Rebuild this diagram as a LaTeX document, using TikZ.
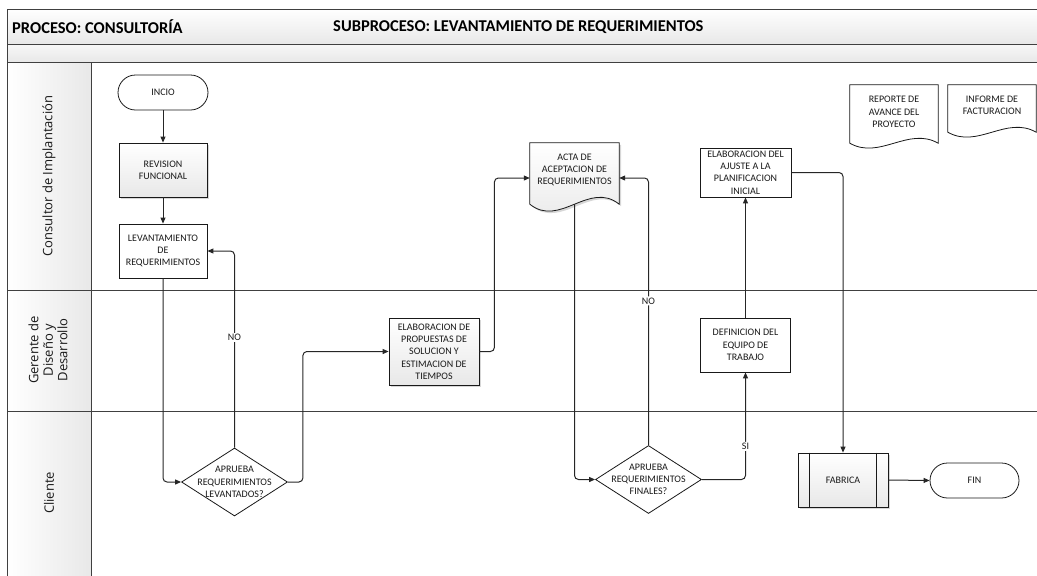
\documentclass[tikz,border=0pt]{standalone}
\usepackage{fontspec}
\setmainfont{Carlito}
\newfontfamily\lanefont{Open Sans}
\usetikzlibrary{shapes.geometric,shapes.misc,arrows.meta,shadows,calc}
\definecolor{linec}{HTML}{404040}
\definecolor{txtc}{HTML}{1A1A1A}
\tikzset{
  txt/.style={align=center, font=\fontsize{10}{12.3}\selectfont, text=txtc, inner sep=0pt},
  box/.style={draw=black!90, line width=0.8pt, minimum width=88pt, minimum height=54pt,
              align=center, font=\fontsize{10}{12.3}\selectfont, text=txtc, fill=white, inner sep=2pt},
  shad/.style={drop shadow={shadow xshift=2pt, shadow yshift=-2pt, fill=black!35, opacity=0.45}},
  gbox/.style={box, top color=white, bottom color=black!9, shad},
  term/.style={rounded rectangle, draw=black!90, line width=0.8pt, minimum width=90pt,
               minimum height=35pt, inner sep=0pt, font=\fontsize{10}{12.3}\selectfont, text=txtc, fill=white},
  dia/.style={diamond, draw=black!90, line width=0.8pt, fill=white, inner sep=0pt,
              minimum width=106pt, minimum height=68pt, aspect=1.55},
  anch/.style={inner sep=0pt, draw=none},
  conn/.style={draw=black!85, line width=1pt, rounded corners=4pt,
               -{Triangle[length=6pt,width=5pt]}},
  lbl/.style={fill=white, inner sep=1.2pt, font=\fontsize{10}{12}\selectfont, text=txtc},
  lane/.style={rotate=90, align=center, font=\lanefont\fontsize{13}{14.5}\selectfont, text=black!90},
  ttl/.style={anchor=west, inner sep=0pt, font=\bfseries\fontsize{16.5}{18}\selectfont},
  frame/.style={draw=linec, line width=0.9pt}
}
\begin{document}
\begin{tikzpicture}[x=1pt, y=-1pt]
\useasboundingbox (0,0) rectangle (1037,576);
% bands
\shade[top color=white, bottom color=black!9] (7,9) rectangle (1037,44);
\shade[top color=black!3, bottom color=black!9] (7,44) rectangle (1037,62);
\shade[left color=white, right color=black!9] (7,62) rectangle (91,576);
\draw[frame] (1037,9) -- (7,9) -- (7,576);
\draw[frame] (7,44) -- (1037,44);
\draw[frame] (7,62) -- (1037,62);
\draw[frame] (7,290) -- (1037,290);
\draw[frame] (7,411) -- (1037,411);
\draw[frame] (91,62) -- (91,576);
% titles
\node[ttl] (t1) at (12,27) {PROCESO: CONSULTORÍA};
\node[ttl] (t2) at (333,27) {SUBPROCESO: LEVANTAMIENTO DE REQUERIMIENTOS};
% lane labels
\node[lane] (l1) at (49,176) {Consultor de Implantación};
\node[lane] (l2) at (48,350) {Gerente de\\Diseño y\\Desarrollo};
\node[lane] (l3) at (49,493) {Cliente};

% nodes
\node[term] (inicio) at (163,92.5) {INCIO};
\node[gbox] (rev) at (163,170) {REVISION\\FUNCIONAL};
\node[box] (lev) at (163,251) {LEVANTAMIENTO\\DE\\REQUERIMIENTOS};
\node[dia] (d1) at (234.5,482) {};
\node[txt] (d1t) at (234.5,482) {APRUEBA\\REQUERIMIENTOS\\LEVANTADOS?};
\node[gbox, minimum width=90pt, minimum height=67pt] (elab) at (434,351.5) {ELABORACION DE\\PROPUESTAS DE\\SOLUCION Y\\ESTIMACION DE\\TIEMPOS};

% ACTA document
\node[anch, minimum width=89pt, minimum height=70pt] (acta) at (574.5,178) {};
\path[top color=white, bottom color=black!9, shad, draw=black!90, line width=0.8pt]
  (acta.north west) -- (acta.north east) -- ($(acta.south east)+(0,-9)$)
  .. controls ($(acta.south east)+(-30,-33)$) and ($(acta.south west)+(30,15)$) ..
  ($(acta.south west)+(0,-9)$) -- cycle;
\node[txt] (actat) at (574.5,170) {ACTA DE\\ACEPTACION DE\\REQUERIMIENTOS};

\node[dia] (d2) at (648.5,479.5) {};
\node[txt] (d2t) at (648.5,479.5) {APRUEBA\\REQUERIMIENTOS\\FINALES?};
\node[box, minimum width=90pt] (def) at (745.5,345) {DEFINICION DEL\\EQUIPO DE\\TRABAJO};
\node[box, minimum width=91pt, minimum height=49pt] (aju) at (745.5,172.5) {ELABORACION DEL\\AJUSTE A LA\\PLANIFICACION\\INICIAL};
\node[gbox, minimum width=90pt] (fab) at (843,480) {FABRICA};
\draw[draw=black!90, line width=0.8pt] ($(fab.north west)+(12,0)$) -- ($(fab.south west)+(12,0)$);
\draw[draw=black!90, line width=0.8pt] ($(fab.north east)+(-12,0)$) -- ($(fab.south east)+(-12,0)$);
\node[term, minimum width=89pt] (fin) at (974.5,480.5) {FIN};

% REPORTE document
\node[anch, minimum width=88pt, minimum height=58pt] (rep) at (894,114) {};
\path[fill=white, draw=black!90, line width=0.8pt]
  (rep.north west) -- (rep.north east) -- (rep.south east)
  .. controls ($(rep.south east)+(-30,-17)$) and ($(rep.south west)+(30,17)$) ..
  (rep.south west) -- cycle;
\node[txt] (rept) at (894,112) {REPORTE DE\\AVANCE DEL\\PROYECTO};
% INFORME document
\node[anch, minimum width=88pt, minimum height=47pt] (inf) at (992,108.5) {};
\path[fill=white, draw=black!90, line width=0.8pt]
  (inf.north west) -- (inf.north east) -- (inf.south east)
  .. controls ($(inf.south east)+(-30,-17)$) and ($(inf.south west)+(30,17)$) ..
  (inf.south west) -- cycle;
\node[txt] (inft) at (992,105) {INFORME DE\\FACTURACION};

% connectors
\draw[conn] (inicio.south) -- (rev.north);
\draw[conn] (rev.south) -- (lev.north);
\draw[conn] (lev.south) |- (d1.west);
\draw[conn] (d1.north) |- node[lbl, pos=0.28] (no1) {NO} (lev.east);
\draw[conn] (d1.east) -- ++(15,0) |- (elab.west);
\draw[conn] (elab.east) -- ++(15,0) |- (acta.west);
\draw[conn] ($(acta.south)+(0,-9)$) |- (d2.west);
\draw[conn] (d2.north) |- node[lbl, pos=0.27] (no2) {NO} (acta.east);
\draw[conn] (d2.east) -| node[lbl, pos=0.655] (si) {SI} (def.south);
\draw[conn] (def.north) -- (aju.south);
\draw[conn] (aju.east) -| (fab.north);
\draw[conn] (fab.east) -- (fin.west);
\end{tikzpicture}
\end{document}
